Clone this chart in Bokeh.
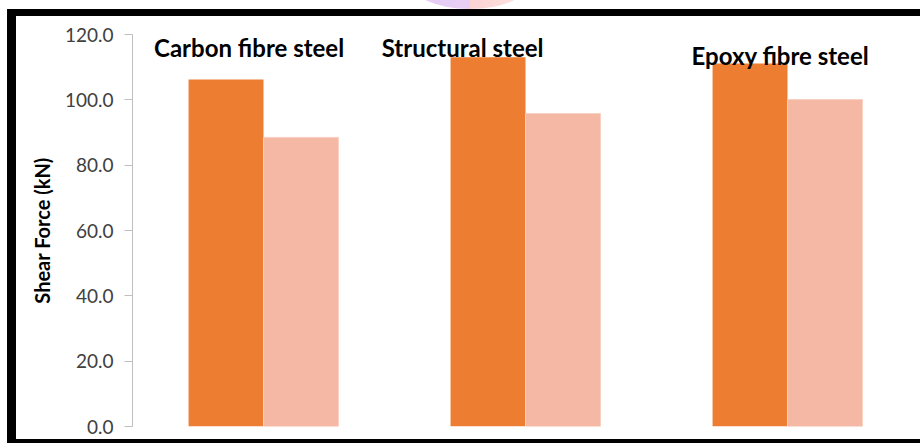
from bokeh.plotting import figure
from bokeh.models import Range1d, FactorRange, Label, InlineStyleSheet
from bokeh.transform import dodge
from bokeh.embed import file_html
from bokeh.resources import INLINE

categories = ["Carbon fibre steel", "Structural steel", "Epoxy fibre steel"]
series_a = [106.2, 113.0, 111.1]
series_b = [88.5, 95.8, 100.1]
y_ticks = [0, 20, 40, 60, 80, 100, 120]

W, H = 920, 443
p = figure(width=W, height=H, x_range=FactorRange(factors=categories, range_padding=0),
           y_range=Range1d(0, 120), output_backend="svg", toolbar_location=None,
           min_border_left=132, min_border_right=2, min_border_top=34, min_border_bottom=17)
p.outline_line_color = None
p.background_fill_color = "white"
p.border_fill_color = "white"
p.xgrid.visible = False
p.ygrid.visible = False
p.xaxis.visible = False

bw = 0.286
p.vbar(x=dodge("cat", -bw / 2, range=p.x_range), top="a", width=bw, bottom=0,
       fill_color="#ED7D31", line_color=None,
       source=dict(cat=categories, a=series_a))
p.vbar(x=dodge("cat", bw / 2, range=p.x_range), top="b", width=bw, bottom=0,
       fill_color="#F4B8A4", line_color="#F8D0C2", line_width=1,
       source=dict(cat=categories, b=series_b))

ax = p.yaxis[0]
ax.ticker = y_ticks
ax.major_label_overrides = {t: f"{t:.1f}" for t in y_ticks}
ax.axis_line_color = "#BFBFBF"
ax.major_tick_line_color = "#BFBFBF"
ax.major_tick_in = 0
ax.major_tick_out = 8
ax.minor_tick_line_color = None
ax.major_label_text_font = "Lato"
ax.major_label_text_font_size = "19px"
ax.major_label_text_color = "#404040"
ax.major_label_standoff = 11
ax.axis_label = "Shear Force (kN)"
ax.axis_label_text_font = "Lato"
ax.axis_label_text_font_style = "bold"
ax.axis_label_text_font_size = "20px"
ax.axis_label_text_color = "#000000"
ax.axis_label_standoff = 8

offsets = [(-0.055, 116.1), (-0.24, 116.1), (-0.027, 113.5)]
for i, (name, (dx, yy)) in enumerate(zip(categories, offsets)):
    p.add_layout(Label(x=i + 0.5 + dx, y=yy, text=name, text_font="Lato",
                       text_font_style="bold", text_font_size="24px",
                       text_color="#000000", text_align="center",
                       text_baseline="alphabetic"))

css = """
:host { position: relative; overflow: hidden; }
:host::before {
  content: ""; position: absolute; z-index: 10; pointer-events: none;
  left: 7px; top: 9px; right: 0px; bottom: 0px;
  border-top: 7px solid black; border-left: 9px solid black; border-bottom: 4px solid black;
  border-right: 0px none transparent;
}
:host::after {
  content: ""; position: absolute; z-index: 10; pointer-events: none;
  left: 410px; top: -46px; width: 120px; height: 55px; border-radius: 50%;
  background: linear-gradient(90deg, #E4CBF6 0%, #E9CFF3 50%, #FBD3D3 50%, #FDE3E3 100%);
}
"""
p.stylesheets = [InlineStyleSheet(css=css)]

open("out.html", "w").write(file_html(p, INLINE))
